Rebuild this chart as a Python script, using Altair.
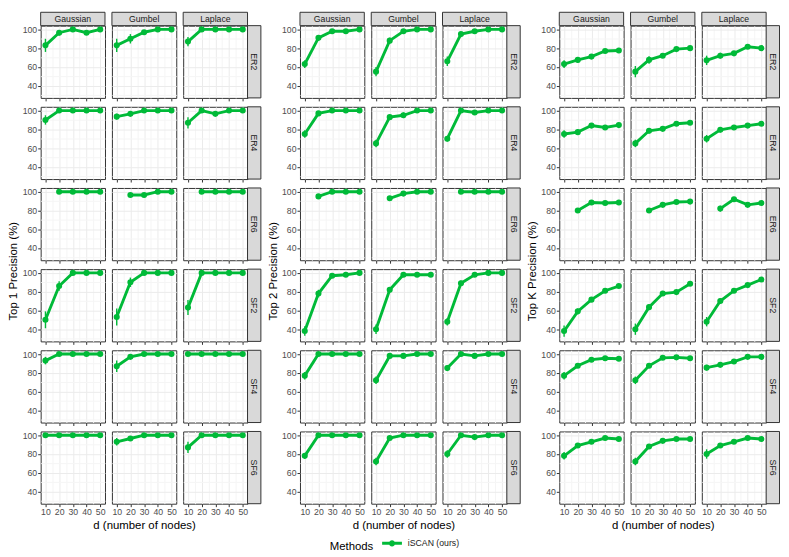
import altair as alt
import pandas as pd

FONT = "Liberation Sans"
GREEN = "#00BA38"
METHOD = "iSCAN (ours)"

D = [10, 20, 30, 40, 50]
DISTS = ["Gaussian", "Gumbel", "Laplace"]
GRAPHS = ["ER2", "ER4", "ER6", "SF2", "SF4", "SF6"]
TITLES = ["Top 1 Precision (%)", "Top 2 Precision (%)", "Top K Precision (%)"]
X_TITLE = "d (number of nodes)"

# values per graph: [Gaussian, Gumbel, Laplace], each over d = 10..50
TOP1 = {
    "ER2": [[83, 96.5, 100, 96.5, 100], [83, 90, 97, 100, 100], [87, 100, 100, 100, 100]],
    "ER4": [[90, 100, 100, 100, 100], [93.5, 96.5, 100, 100, 100], [87, 100, 96.5, 100, 100]],
    "ER6": [[None, 100, 100, 100, 100], [None, 96.5, 96.5, 100, 100], [None, 100, 100, 100, 100]],
    "SF2": [[50, 86, 100, 100, 100], [53, 90, 100, 100, 100], [63, 100, 100, 100, 100]],
    "SF4": [[93, 100, 100, 100, 100], [87, 97, 100, 100, 100], [100, 100, 100, 100, 100]],
    "SF6": [[100, 100, 100, 100, 100], [93, 96.5, 100, 100, 100], [87, 100, 100, 100, 100]],
}
TOP1_ERR = {
    "ER2": [[7, 3, 0.5, 2, 0.5], [7, 5, 2, 0.5, 0.5], [5, 0.5, 0.5, 0.5, 0.5]],
    "ER4": [[5, 0.5, 0.5, 0.5, 0.5], [3, 2, 0.5, 0.5, 0.5], [6, 0.5, 2, 0.5, 0.5]],
    "ER6": [[None, 0.5, 0.5, 0.5, 0.5], [None, 2, 2, 0.5, 0.5], [None, 0.5, 0.5, 0.5, 0.5]],
    "SF2": [[9, 5, 0.5, 0.5, 0.5], [9, 5, 0.5, 0.5, 0.5], [8, 0.5, 0.5, 0.5, 0.5]],
    "SF4": [[4, 0.5, 0.5, 0.5, 0.5], [6, 2, 0.5, 0.5, 0.5], [0.5, 0.5, 0.5, 0.5, 0.5]],
    "SF6": [[0.5, 0.5, 0.5, 0.5, 0.5], [4, 2, 0.5, 0.5, 0.5], [6, 0.5, 0.5, 0.5, 0.5]],
}
TOP2 = {
    "ER2": [[63, 91, 98, 98, 100], [55, 88, 98, 100, 100], [66, 95, 98, 100, 100]],
    "ER4": [[75, 97, 100, 100, 100], [65, 93, 95, 100, 100], [70, 100, 98, 100, 100]],
    "ER6": [[None, 95, 100, 100, 100], [None, 93, 98, 100, 100], [None, 100, 100, 100, 100]],
    "SF2": [[38, 78, 97, 98, 100], [40, 82, 98, 98, 98], [48, 89, 98, 100, 100]],
    "SF4": [[77, 100, 100, 100, 100], [72, 98, 98, 100, 100], [85, 100, 98, 100, 100]],
    "SF6": [[78, 100, 100, 100, 100], [72, 97, 100, 100, 100], [80, 100, 98, 100, 100]],
}
TOP2_ERR = {
    "ER2": [[4, 3, 1, 1, 0.5], [5, 3, 1, 0.5, 0.5], [5, 2, 1, 0.5, 0.5]],
    "ER4": [[4, 1.5, 0.5, 0.5, 0.5], [4, 2, 3, 0.5, 0.5], [3, 0.5, 1, 0.5, 0.5]],
    "ER6": [[None, 1.5, 0.5, 0.5, 0.5], [None, 2, 1, 0.5, 0.5], [None, 0.5, 0.5, 0.5, 0.5]],
    "SF2": [[5, 4, 1.5, 1, 0.5], [5, 3, 1, 1, 1], [4, 3, 1, 0.5, 0.5]],
    "SF4": [[4, 0.5, 0.5, 0.5, 0.5], [4, 1, 1, 0.5, 0.5], [3, 0.5, 1, 0.5, 0.5]],
    "SF6": [[3, 0.5, 0.5, 0.5, 0.5], [4, 1, 0.5, 0.5, 0.5], [4, 0.5, 1, 0.5, 0.5]],
}
TOPK = {
    "ER2": [[63, 67.5, 71, 77, 77.5], [55, 67.5, 72, 79, 80], [67, 72, 74.5, 81.5, 80]],
    "ER4": [[75, 77, 84, 82, 84.5], [65, 78.5, 80.5, 86, 87], [70, 79.5, 82, 84, 86]],
    "ER6": [[None, 80, 88.5, 88, 88.5], [None, 80, 86, 89, 89.5], [None, 82, 92, 86, 88]],
    "SF2": [[38, 59, 71.5, 81, 86], [40, 63.5, 78, 79.5, 88.5], [48, 70, 81, 87, 93]],
    "SF4": [[77, 87.5, 94, 95.5, 95], [72, 87.5, 96, 96.5, 95.5], [85.5, 88.5, 92, 97, 97]],
    "SF6": [[78, 89, 93, 97, 96], [72, 88, 94, 96, 96], [80, 89, 93, 97, 96]],
}
TOPK_ERR = {
    "ER2": [[4, 3, 2, 1.5, 1], [6, 4, 2, 1.5, 1], [5, 3, 2, 1.5, 1]],
    "ER4": [[4, 3, 1.5, 1.5, 1], [4, 3, 1.5, 1, 1], [4, 3, 1.5, 1, 1]],
    "ER6": [[None, 2, 1, 1, 1], [None, 2, 1, 1, 1], [None, 3, 1, 2, 1]],
    "SF2": [[6, 3, 2, 1.5, 1], [6, 3, 2, 1.5, 1], [5, 3, 2, 1.5, 1]],
    "SF4": [[4, 2, 1, 1, 1], [4, 2, 1, 1, 1], [3, 2, 1, 1, 1]],
    "SF6": [[4, 2, 1, 1, 1], [4, 2, 1, 1, 1], [5, 2, 1, 1, 1]],
}

W, H = 65, 73
STRIP = 13.5
YDOM = [27, 104]
XDOM = [6.5, 53.5]
MAJOR_GRID = "#EBEBEB"
MINOR_GRID = "#F5F5F5"
TITLE_SIZE = 11.5


def panel(vals, errs, dist, graph, ri, ci, with_legend):
    rows = [
        {"d": d, "y": v, "lo": v - e, "hi": v + e, "method": METHOD}
        for d, v, e in zip(D, vals, errs)
        if v is not None
    ]
    df = pd.DataFrame(rows)
    bottom = ri == len(GRAPHS) - 1
    first = ci == 0

    xaxis = alt.Axis(
        values=list(range(10, 51, 5)),
        labels=bottom,
        labelExpr="datum.value % 10 == 0 ? datum.label : ''",
        labelOverlap=False,
        labelFlush=False,
        ticks=True,
        tickOpacity={"condition": {"test": "datum.value % 10 == 0", "value": 1}, "value": 0},
        gridColor={"condition": {"test": "datum.value % 10 == 0", "value": MAJOR_GRID}, "value": MINOR_GRID},
        title=X_TITLE if (bottom and ci == 1) else "",
    )
    yaxis = alt.Axis(
        values=list(range(30, 101, 10)),
        labels=first,
        ticks=first,
        labelExpr="datum.value % 20 == 0 ? datum.label : ''",
        labelOverlap=False,
        labelFlush=False,
        tickOpacity={"condition": {"test": "datum.value % 20 == 0", "value": 1}, "value": 0},
        gridColor={"condition": {"test": "datum.value % 20 == 0", "value": MAJOR_GRID}, "value": MINOR_GRID},
        title="",
    )
    xs = alt.Scale(domain=XDOM, nice=False, zero=False)
    ys = alt.Scale(domain=YDOM, nice=False, zero=False)
    X = alt.X("d:Q", scale=xs, axis=xaxis)

    base = alt.Chart(df)
    err = base.mark_rule(color=GREEN, strokeWidth=1.4).encode(
        x=X, y=alt.Y("lo:Q", scale=ys, axis=yaxis), y2="hi:Q"
    )
    line = base.mark_line(color=GREEN, strokeWidth=2.9).encode(
        x=X, y=alt.Y("y:Q", scale=ys, axis=yaxis)
    )
    pts = base.mark_circle(color=GREEN, size=38, opacity=1).encode(
        x=X, y=alt.Y("y:Q", scale=ys, axis=yaxis)
    )
    if with_legend:
        pts = pts.encode(
            color=alt.Color(
                "method:N",
                scale=alt.Scale(domain=[METHOD], range=[GREEN]),
                legend=alt.Legend(title="Methods", orient="none", legendX=292, legendY=513,
                                  direction="horizontal", titleOrient="left",
                                  titleBaseline="line-top", titleLineHeight=14),
            )
        )
    layers = [err, line, pts]

    if ri == 0:
        sd = alt.Data(values=[{"t": dist}])
        layers.append(
            alt.Chart(sd).mark_rect(fill="#D9D9D9", stroke="#333333", strokeWidth=1).encode(
                x=alt.value(0), x2=alt.value(W), y=alt.value(-STRIP), y2=alt.value(0)
            )
        )
        layers.append(
            alt.Chart(sd).mark_text(font=FONT, fontSize=8.8, color="#1A1A1A", baseline="middle").encode(
                x=alt.value(W / 2), y=alt.value(-STRIP / 2), text="t:N"
            )
        )
    if ci == len(DISTS) - 1:
        sg = alt.Data(values=[{"t": graph}])
        layers.append(
            alt.Chart(sg).mark_rect(fill="#D9D9D9", stroke="#333333", strokeWidth=1).encode(
                x=alt.value(W), x2=alt.value(W + STRIP), y=alt.value(0), y2=alt.value(H)
            )
        )
        layers.append(
            alt.Chart(sg).mark_text(font=FONT, fontSize=8.8, color="#1A1A1A", angle=90, baseline="middle").encode(
                x=alt.value(W + STRIP / 2), y=alt.value(H / 2), text="t:N"
            )
        )
    return alt.layer(*layers).properties(width=W, height=H)


def block(values, errors, title, legend_block):
    panels = []
    for ri, g in enumerate(GRAPHS):
        for ci, dist in enumerate(DISTS):
            panels.append(
                panel(values[g][ci], errors[g][ci], dist, g, ri, ci,
                      legend_block and ri == 0 and ci == 0)
            )
    return alt.concat(
        *panels, columns=3, spacing={"row": 9, "column": 7}, bounds="flush"
    ).properties(
        title=alt.Title(title, orient="left", anchor="middle", fontSize=TITLE_SIZE,
                        fontWeight="normal", font=FONT, color="black", offset=2)
    )


chart = alt.hconcat(
    block(TOP1, TOP1_ERR, TITLES[0], True),
    block(TOP2, TOP2_ERR, TITLES[1], False),
    block(TOPK, TOPK_ERR, TITLES[2], False),
    spacing=5,
).properties(
    padding={"left": 0, "top": 0, "right": 0, "bottom": 0}
).configure(
    font=FONT
).configure_view(
    stroke="#333333", strokeWidth=1
).configure_axis(
    domain=False,
    labelFont=FONT,
    labelFontSize=8.8,
    labelColor="#4D4D4D",
    labelPadding=1,
    tickColor="#333333",
    tickSize=3,
    titleFont=FONT,
    titleFontSize=TITLE_SIZE,
    titleFontWeight="normal",
    titleColor="black",
    titlePadding=3,
).configure_legend(
    titleFont=FONT,
    titleFontSize=TITLE_SIZE,
    titleFontWeight="normal",
    titleColor="black",
    titlePadding=8,
    labelFont=FONT,
    labelFontSize=8.8,
    labelColor="#1A1A1A",
    labelOffset=6,
    symbolType="M-1,-0.15H1V0.15H-1Z M-0.32,0A0.32,0.32 0 1 1 0.32,0A0.32,0.32 0 1 1 -0.32,0Z",
    symbolSize=400,
    symbolStrokeWidth=0,
)

chart.save("out.html", embed_options={"renderer": "svg", "actions": False})
